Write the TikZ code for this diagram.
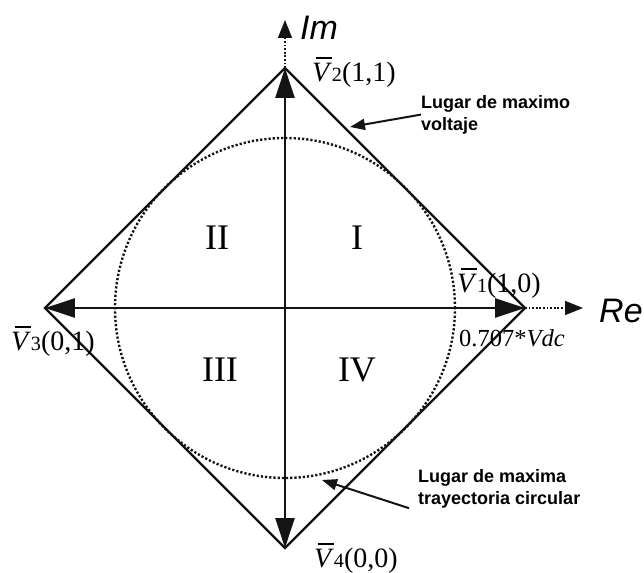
\documentclass[tikz,border=0pt]{standalone}
\usepackage{fontspec}
\setmainfont{Liberation Serif}
\setsansfont{Liberation Sans}
\usetikzlibrary{arrows.meta, positioning}
\definecolor{cInk}{RGB}{20,20,20}
\newcommand{\vecV}[2]{\rlap{\hspace{0.12em}\rule[0.8em]{0.58em}{0.07em}}\textit{V}\scalebox{0.72}{#1}#2}
\tikzset{
  vlabel/.style={inner sep=0pt, font=\fontsize{28}{32}\selectfont},
  radlabel/.style={inner sep=0pt, font=\fontsize{24.5}{28}\selectfont},
  quadlabel/.style={inner sep=0pt, font=\fontsize{36}{40}\selectfont},
  axislabel/.style={inner sep=0pt, font=\sffamily\itshape\fontsize{34}{38}\selectfont},
  notelabel/.style={inner sep=0pt, align=left,
                    font=\sffamily\bfseries\fontsize{18}{22}\selectfont},
  lugar/.style={line width=2.4pt, line join=miter, color=cInk},
  eje/.style={{Triangle[length=30pt, width=19pt]}-{Triangle[length=30pt, width=19pt]},
              line width=2.4pt, color=cInk},
  extension/.style={-{Triangle[length=18pt, width=14pt]}, line width=1.8pt,
                    dash pattern=on 1.8pt off 1.8pt, color=cInk},
  circulo/.style={line width=2.4pt, dash pattern=on 2.2pt off 2pt, color=cInk},
  notearrow/.style={-{Triangle[length=15pt, width=11pt]}, line width=2pt, color=cInk}
}
\begin{document}
\begin{tikzpicture}[x=1pt, y=1pt]

  \useasboundingbox (-285,-264) rectangle (359,308);

  \coordinate (O) at (0,0);
  \coordinate (v1) at (240,0);
  \coordinate (v2) at (0,240);
  \coordinate (v3) at (-240,0);
  \coordinate (v4) at (0,-240);
  \coordinate (retip) at (298,0);
  \coordinate (imtip) at (0,288);
  \coordinate (tipvolt) at (65,181);
  \coordinate (tipcirc) at (37,-172);

  \draw[circulo] (O) circle[radius=170pt];
  \draw[lugar] (v1) -- (v2) -- (v3) -- (v4) -- cycle;
  \draw[eje] (v3) -- (v1);
  \draw[eje] (v4) -- (v2);
  \draw[extension] (v1) -- (retip);
  \draw[extension] (v2) -- (imtip);

  \node[axislabel, anchor=west] (im) at (15,280) {Im};
  \node[axislabel, anchor=west] (re) at (314,-3) {Re};

  \node[vlabel, anchor=west] (lbltwo) at (27,236) {\vecV{2}{(1,1)}};
  \node[vlabel, anchor=west] (lblone) at (172,25) {\vecV{1}{(1,0)}};
  \node[vlabel, anchor=west] (lblthree) at (-274,-33) {\vecV{3}{(0,1)}};
  \node[vlabel, anchor=west] (lblfour) at (29,-250) {\vecV{4}{(0,0)}};
  \node[radlabel, anchor=west] (radio) at (174,-30) {0.707*\textit{Vdc}};

  \node[quadlabel] (qone) at (72,70) {I};
  \node[quadlabel] (qtwo) at (-68,70) {II};
  \node[quadlabel] (qthree) at (-65,-62) {III};
  \node[quadlabel] (qfour) at (72,-62) {IV};

  \node[notelabel, anchor=north west] (notevolt) at (136,213)
      {Lugar de maximo\\voltaje};
  \node[notelabel, anchor=north west] (notecirc) at (133,-161)
      {Lugar de maxima\\trayectoria circular};

  \draw[notearrow] (notevolt.west) -- (tipvolt);
  \draw[notearrow] ([xshift=-9pt]notecirc.south west) -- (tipcirc);

\end{tikzpicture}
\end{document}
